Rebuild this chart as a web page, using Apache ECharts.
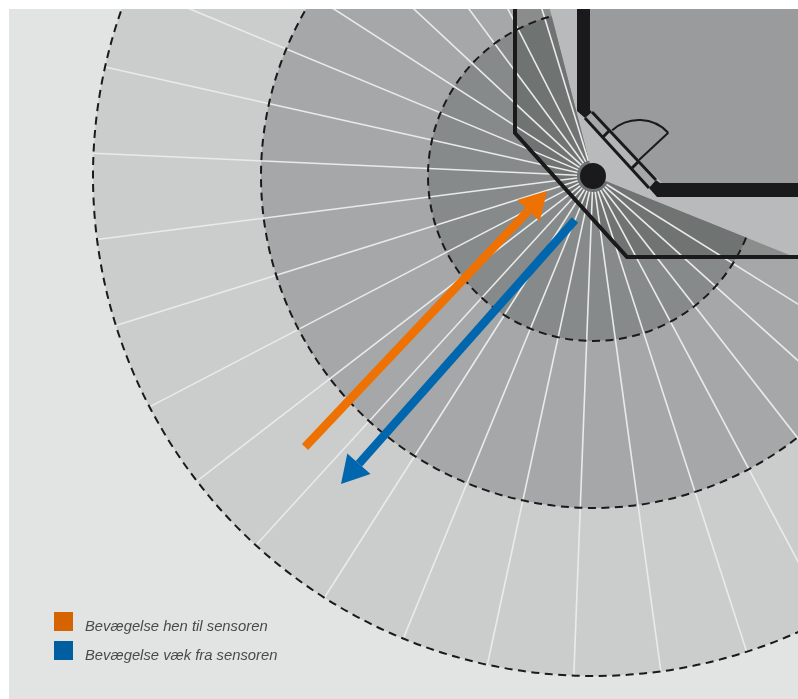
<!DOCTYPE html>
<html>
<head>
<meta charset="utf-8">
<style>html,body{margin:0;padding:0;background:#fff}#c{width:798px;height:699px}</style>
<script src="https://cdn.jsdelivr.net/npm/echarts@6/dist/echarts.min.js"></script>
</head>
<body>
<div id="c"></div>
<script>
// plan coordinates: sensor at (0,0), y pointing down
const ringRadii = [500, 332, 165];
const sectorBearings = [21.9, 255.6];
const rayBearings = [32,42,52,62,72.1,82.2,92.2,102.2,112.3,122.5,132.4,142.4,152.5,162.6,172.7,182.6,192.6,202.5,212.8,223,233.4,243,253];
const rayRange = [16, 500];
const outerWall = [[-78,-167],[-78,-43],[34,81],[205,81]];
const outerWallArea = [[-78,-167],[-78,-43],[34,81],[205,81],[205,-167]];
const roomArea = [[-3,-167],[-3,-66],[69,7],[205,7],[205,-167]];
const wallPartA = [[-16,-167],[-3,-167],[-3,-66],[-1,-64],[-8,-58],[-16,-65]];
const wallPartB = [[63,4],[67,7],[205,7],[205,21],[64,21],[56,12]];
const windowFrame = [[-1,-64],[63,4],[56,12],[-8,-58]];
const windowMiddle = [[10,-39],[17,-46],[46,-15],[39,-8]];
const windowLines = [[[-1,-64],[63,4]],[[-8,-58],[56,12]],[[10,-39],[17,-46]],[[39,-8],[46,-15]]];
const doorHinge = [46,-16];
const doorRadius = 40;
const doorBearings = [-132,-43];
const sensorRadius = 13;
const arrowToward = [[-288,271],[-46,15]];
const arrowAway = [[-18,44],[-252,308]];
const legendNames = ['Bevægelse hen til sensoren','Bevægelse væk fra sensoren'];

const INK='#1a191b', RAD=Math.PI/180;
const one=[[0]];
function len(api,v){return api.size([v,0])[0];}
function single(name,render,extra){
  return Object.assign({type:'custom',name:name,coordinateSystem:'cartesian2d',clip:true,silent:true,data:one,renderItem:render,encode:{x:0,y:0}},extra||{});
}
function polygon(pts,fill){return single(undefined,(p,api)=>({type:'polygon',shape:{points:pts.map(q=>api.coord(q))},style:{fill:fill}}));}
function polyline(pts,w,color){return single(undefined,(p,api)=>({type:'polyline',shape:{points:pts.map(q=>api.coord(q))},style:{fill:'none',stroke:color,lineWidth:w,lineJoin:'miter'}}));}
function disc(r,fill){return single(undefined,(p,api)=>{const c=api.coord([0,0]);return {type:'circle',shape:{cx:c[0],cy:c[1],r:len(api,r)},style:{fill:fill}};});}
function wallDistance(b,R){
  const dx=Math.cos(b*RAD),dy=Math.sin(b*RAD);let best=R;
  for(let i=0;i<outerWall.length-1;i++){
    const a=outerWall[i],c=outerWall[i+1],ex=c[0]-a[0],ey=c[1]-a[1];
    const d=dx*ey-dy*ex; if(Math.abs(d)<1e-9)continue;
    const t=(a[0]*ey-a[1]*ex)/d,u=(a[0]*dy-a[1]*dx)/d;
    if(t>0&&u>=0&&u<=1&&t<best)best=t;
  }
  return best;
}
function insideSector(R,fill){
  const pts=[[0,0]];
  for(let b=sectorBearings[0];b<=sectorBearings[1];b+=0.2){const r=wallDistance(b,R);pts.push([r*Math.cos(b*RAD),r*Math.sin(b*RAD)]);}
  return polygon(pts,fill);
}
function arrow(name,ends,color){
  return single(name,(p,api)=>{
    const t=ends[0],h=ends[1],L=Math.hypot(h[0]-t[0],h[1]-t[1]),ux=(h[0]-t[0])/L,uy=(h[1]-t[1])/L;
    const hl=27,hw=15.5,b=[h[0]-ux*hl,h[1]-uy*hl];
    return {type:'group',children:[
      {type:'line',shape:{x1:api.coord(t)[0],y1:api.coord(t)[1],x2:api.coord(b)[0],y2:api.coord(b)[1]},style:{stroke:color,lineWidth:8.5}},
      {type:'polygon',shape:{points:[h,[b[0]-uy*hw,b[1]+ux*hw],[b[0]+uy*hw,b[1]-ux*hw]].map(q=>api.coord(q))},style:{fill:color}}
    ]};
  },{itemStyle:{color:color}});
}
const series=[];
series.push(disc(ringRadii[0],'#cbcdcc'));
series.push(disc(ringRadii[1],'#a6a7a9'));
series.push(disc(ringRadii[2],'#878a8a'));
series.push(polygon(outerWallArea,'#b9babc'));
series.push(insideSector(ringRadii[1],'#8a8d8c'));
series.push(insideSector(ringRadii[2],'#6f7372'));
series.push({type:'custom',coordinateSystem:'cartesian2d',clip:true,silent:true,data:rayBearings.map(b=>[b]),encode:{x:0,y:0},
  renderItem:(p,api)=>{const b=api.value(0)*RAD,a=api.coord([rayRange[0]*Math.cos(b),rayRange[0]*Math.sin(b)]),c=api.coord([rayRange[1]*Math.cos(b),rayRange[1]*Math.sin(b)]);
    return {type:'line',shape:{x1:a[0],y1:a[1],x2:c[0],y2:c[1]},style:{stroke:'#e9eaea',lineWidth:1.6}};}});
series.push({type:'custom',coordinateSystem:'cartesian2d',clip:true,silent:true,data:ringRadii.map(r=>[r]),encode:{x:0,y:0},
  renderItem:(p,api)=>{const c=api.coord([0,0]);return {type:'arc',shape:{cx:c[0],cy:c[1],r:len(api,api.value(0)),startAngle:sectorBearings[0]*RAD,endAngle:sectorBearings[1]*RAD,clockwise:true},
    style:{fill:'none',stroke:INK,lineWidth:2,lineDash:[8,5.5]}};}});
series.push(polygon(roomArea,'#9a9b9d'));
series.push(polygon(windowFrame,'#a6a7a9'));
series.push(polygon(windowMiddle,'#b4b5b7'));
windowLines.forEach(l=>series.push(polyline(l,3,INK)));
series.push(polygon(wallPartA,INK));
series.push(polygon(wallPartB,INK));
series.push(polyline(outerWall,4,INK));
series.push(single(undefined,(p,api)=>{
  const c=api.coord(doorHinge),a0=doorBearings[0]*RAD,a1=doorBearings[1]*RAD,r=len(api,doorRadius);
  return {type:'group',children:[
    {type:'arc',shape:{cx:c[0],cy:c[1],r:r,startAngle:a0,endAngle:a1,clockwise:true},style:{fill:'none',stroke:INK,lineWidth:2}},
    {type:'line',shape:{x1:c[0],y1:c[1],x2:c[0]+r*Math.cos(a1),y2:c[1]+r*Math.sin(a1)},style:{stroke:INK,lineWidth:2}}
  ]};
}));
series.push(disc(sensorRadius,INK));
series.push(arrow(legendNames[0],arrowToward,'#ee7203'));
series.push(arrow(legendNames[1],arrowAway,'#0066ae'));

const chart=echarts.init(document.getElementById('c'),null,{renderer:'canvas'});
chart.setOption({
  animation:false,
  backgroundColor:'#ffffff',
  grid:{left:9,top:9,right:0,bottom:0,show:true,backgroundColor:'#e2e4e3',borderWidth:0},
  xAxis:{type:'value',min:-584,max:205,show:false},
  yAxis:{type:'value',min:-167,max:523,inverse:true,show:false},
  legend:{orient:'vertical',left:49,top:607,itemWidth:19,itemHeight:19,itemGap:7,selectedMode:false,icon:'rect',
    formatter:n=>'{t|'+n+'}',
    textStyle:{rich:{t:{fontFamily:'Liberation Sans',fontStyle:'italic',fontSize:14.8,color:'#4a4a4a',padding:[10,0,0,7]}}},
    data:[{name:legendNames[0],itemStyle:{color:'#d56400'}},{name:legendNames[1],itemStyle:{color:'#005ea1'}}]},
  series:series
});
</script>
</body>
</html>
